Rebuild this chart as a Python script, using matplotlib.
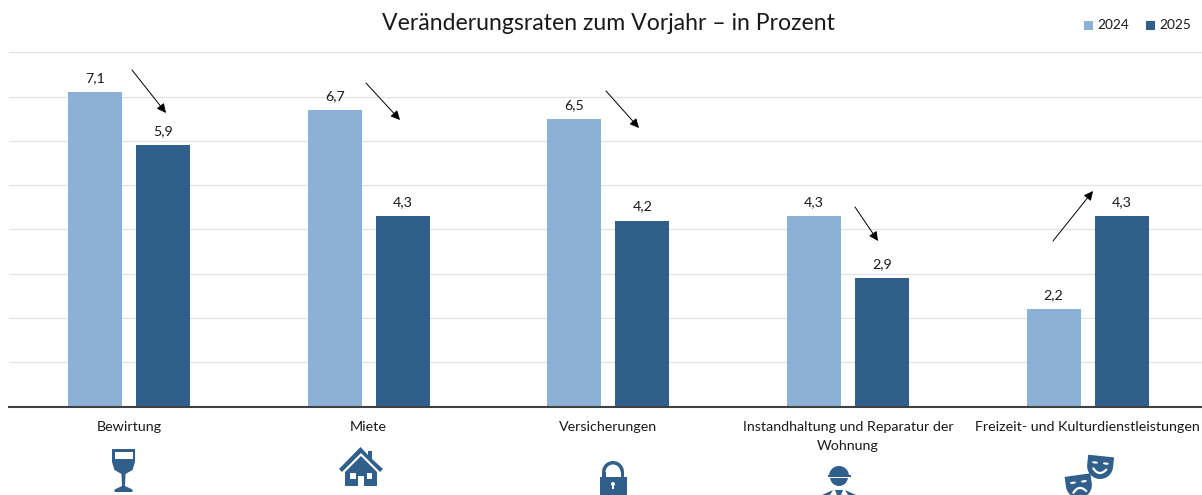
import matplotlib
matplotlib.use('Agg')
import numpy as np
import matplotlib.pyplot as plt
from matplotlib.patches import Polygon, Rectangle, Ellipse, Wedge, Circle

plt.rcParams['font.family'] = ['Lato', 'DejaVu Sans']

categories = ['Bewirtung', 'Miete', 'Versicherungen',
              'Instandhaltung und Reparatur der\nWohnung',
              'Freizeit- und Kulturdienstleistungen']
values_2024 = [7.1, 6.7, 6.5, 4.3, 2.2]
values_2025 = [5.9, 4.3, 4.2, 2.9, 4.3]
series_names = ['2024', '2025']
title = 'Veränderungsraten zum Vorjahr – in Prozent'

W, H = 1202, 495
LIGHT = '#8cb0d6'
DARK = '#2f5f8a'
TEXT = '#1a1a1a'

fig = plt.figure(figsize=(W / 100, H / 100), dpi=100)

# the plot area runs slightly past the right edge of the picture
ax = fig.add_axes([9.4 / W, (H - 406.5) / H, 1198 / W, 354 / H])
x = np.arange(len(categories))
offset = 0.142
bar_w = 0.225
bars1 = ax.bar(x - offset, values_2024, bar_w, color=LIGHT, zorder=3, label=series_names[0])
bars2 = ax.bar(x + offset, values_2025, bar_w, color=DARK, zorder=3, label=series_names[1])

ax.set_xlim(-0.5, len(categories) - 0.5)
ax.set_ylim(0, 8)
ax.set_yticks(range(0, 9))
ax.grid(axis='y', color='#e2e2e2', lw=0.9, zorder=0)
ax.set_axisbelow(True)
ax.tick_params(left=False, bottom=False, labelleft=False, labelbottom=False)
for s in ['top', 'right', 'left']:
    ax.spines[s].set_visible(False)
ax.spines['bottom'].set_color('#404040')
ax.spines['bottom'].set_linewidth(1.5)
ax.spines['bottom'].set_zorder(5)

for bars in (bars1, bars2):
    for b in bars:
        ax.annotate(f'{b.get_height():.1f}'.replace('.', ','),
                    (b.get_x() + b.get_width() / 2, b.get_height()),
                    xytext=(0, 8), textcoords='offset pixels',
                    ha='center', va='bottom', fontsize=10.3, color=TEXT)

# overlay in picture pixels for title, legend, category names, arrows, icons
ov = fig.add_axes([0, 0, 1, 1], zorder=10)
ov.patch.set_alpha(0)

ov.text(608.5, 23, title, ha='center', va='center', fontsize=16.6, color=TEXT)

for px, c, name, tx in [(1084, LIGHT, series_names[0], 1097), (1146, DARK, series_names[1], 1159)]:
    ov.add_patch(Rectangle((px, 21), 9, 9, color=c, lw=0))
    ov.text(tx, 25, name, ha='left', va='center', fontsize=9.8, color=TEXT)

label_x = [129, 368.5, 608, 848, 1087.5]
for lx, cat in zip(label_x, categories):
    ov.text(lx, 421, cat, ha='center', va='top', fontsize=10.3, color=TEXT, linespacing=1.75)

arrows = [((132, 70), (166, 113)), ((366, 83), (400, 120)), ((606, 91), (639, 128)),
          ((855, 207), (878, 241)), ((1053, 241), (1093, 191))]
for a, b in arrows:
    ov.annotate('', xy=b, xytext=a,
                arrowprops=dict(arrowstyle='-|>,head_length=0.55,head_width=0.27', color='black',
                                lw=0.7, shrinkA=0, shrinkB=0))


def glass(cx):
    ov.add_patch(Polygon([(cx - 11.5, 449), (cx + 11.5, 449), (cx + 11.5, 462), (cx + 9, 470), (cx + 2, 474),
                          (cx + 1.5, 486), (cx + 9, 489.5), (cx + 9, 492), (cx - 9, 492), (cx - 9, 489.5),
                          (cx - 1.5, 486), (cx - 2, 474), (cx - 9, 470), (cx - 11.5, 462)], color=DARK, lw=0))
    ov.add_patch(Rectangle((cx - 9, 452), 18, 7, color='white', lw=0))


def house(cx):
    ov.add_patch(Polygon([(cx - 22, 469), (cx - 0.5, 447), (cx + 7, 455), (cx + 7, 451), (cx + 11, 451),
                          (cx + 11, 459), (cx + 22, 469), (cx + 19, 472), (cx, 453), (cx - 19, 472)],
                         color=DARK, lw=0))
    ov.add_patch(Polygon([(cx - 16, 472), (cx, 456), (cx + 16, 472), (cx + 16, 486), (cx - 16, 486)],
                         color=DARK, lw=0))
    ov.add_patch(Rectangle((cx - 3, 476), 6, 10, color='white', lw=0))
    ov.add_patch(Rectangle((cx - 11, 473), 5.5, 5.5, color='white', lw=0))
    ov.add_patch(Rectangle((cx + 5.5, 473), 5.5, 5.5, color='white', lw=0))


def lock(cx):
    ov.add_patch(Wedge((cx, 472), 11, 180, 360, width=3.5, color=DARK, lw=0))
    ov.add_patch(Rectangle((cx - 11, 472), 3.5, 7, color=DARK, lw=0))
    ov.add_patch(Rectangle((cx + 7.5, 472), 3.5, 7, color=DARK, lw=0))
    ov.add_patch(Rectangle((cx - 13.5, 477), 27, 18, color=DARK, lw=0))
    ov.add_patch(Circle((cx, 484), 2, color='white', lw=0))
    ov.add_patch(Rectangle((cx - 1, 484), 2, 5, color='white', lw=0))


def worker(cx):
    ov.add_patch(Wedge((cx, 476), 10, 180, 360, color=DARK, lw=0))
    ov.add_patch(Wedge((cx, 477), 9, 0, 180, color=DARK, lw=0))
    ov.add_patch(Rectangle((cx - 11.5, 475), 23, 2, color=DARK, lw=0))
    ov.add_patch(Rectangle((cx - 11, 476.5), 22, 1.5, color='white', lw=0))
    ov.add_patch(Polygon([(cx - 4, 490), (cx + 4, 490), (cx + 2, 495), (cx - 2, 495)], color=DARK, lw=0))
    ov.add_patch(Polygon([(cx - 6, 490), (cx - 17, 495), (cx - 9, 495)], color=DARK, lw=0))
    ov.add_patch(Polygon([(cx + 6, 490), (cx + 17, 495), (cx + 9, 495)], color=DARK, lw=0))


def mask(cx, cy, angle, smile):
    t = np.deg2rad(angle)
    rot = np.array([[np.cos(t), -np.sin(t)], [np.sin(t), np.cos(t)]])
    phi = np.linspace(0, np.pi, 25)
    pts = [(-13, -11)] + [(13, -11)] + [(13 * np.cos(p), 13 * np.sin(p) - 1) for p in phi]
    pts = np.array(pts) @ rot.T + [cx, cy]
    ov.add_patch(Polygon(pts, color=DARK, lw=0))
    for ex in (-5.5, 5.5):
        e = np.array([ex, -4]) @ rot.T + [cx, cy]
        ov.add_patch(Ellipse(e, 6, 2.2, angle=angle, color='white', lw=0))
    s = np.linspace(-6.5, 6.5, 15)
    if smile:
        my = 2 + 4 * (1 - (s / 6.5) ** 2)
    else:
        my = 6 - 4 * (1 - (s / 6.5) ** 2)
    m = np.column_stack([s, my]) @ rot.T + [cx, cy]
    ov.plot(m[:, 0], m[:, 1], color='white', lw=1.6, solid_capstyle='round')


glass(123.5)
house(361)
lock(613)
worker(839)
mask(1100, 467, 6, True)
mask(1079, 486, -8, False)
ov.set_xlim(0, W)
ov.set_ylim(H, 0)
ov.axis('off')

fig.savefig('out.png', dpi=100)
